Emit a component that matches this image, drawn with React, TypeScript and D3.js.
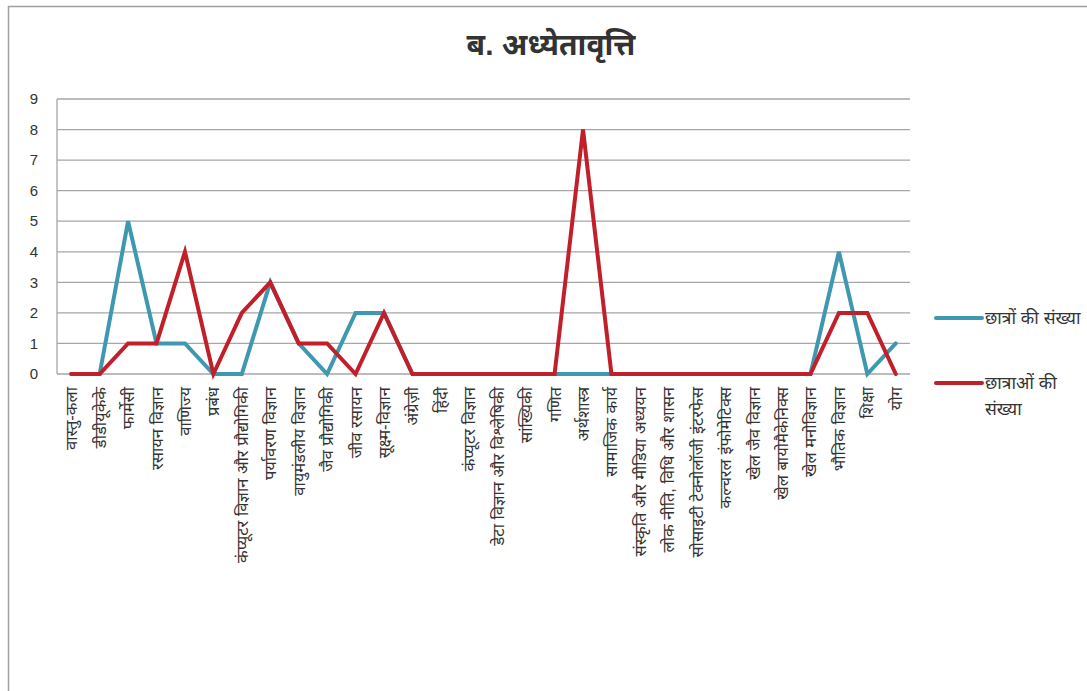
import React from "react";
import * as d3 from "d3";

const categories = [
  "वास्तु-कला", "डीडीयूकेके", "फार्मेसी", "रसायन विज्ञान", "वाणिज्य", "प्रबंध",
  "कंप्यूटर विज्ञान और प्रौद्योगिकी", "पर्यावरण विज्ञान", "वायुमंडलीय विज्ञान", "जैव प्रौद्योगिकी",
  "जीव रसायन", "सूक्ष्म-विज्ञान", "अंग्रेज़ी", "हिंदी", "कंप्यूटर विज्ञान",
  "डेटा विज्ञान और विश्लेषिकी", "सांख्यिकी", "गणित", "अर्थशास्त्र", "सामाजिक कार्य",
  "संस्कृति और मीडिया अध्ययन", "लोक नीति, विधि और शासन", "सोसाइटी टेक्नोलॉजी इंटरफेस",
  "कल्चरल इंफोमेटिक्स", "खेल जैव विज्ञान", "खेल बायोमैकेनिक्स", "खेल मनोविज्ञान",
  "भौतिक विज्ञान", "शिक्षा", "योग",
];
const students = [0, 0, 5, 1, 1, 0, 0, 3, 1, 0, 2, 2, 0, 0, 0, 0, 0, 0, 0, 0, 0, 0, 0, 0, 0, 0, 0, 4, 0, 1];
const femaleStudents = [0, 0, 1, 1, 4, 0, 2, 3, 1, 1, 0, 2, 0, 0, 0, 0, 0, 0, 8, 0, 0, 0, 0, 0, 0, 0, 0, 2, 2, 0];
const yTicks = [0, 1, 2, 3, 4, 5, 6, 7, 8, 9];
const seriesNames = ["छात्रों की संख्या", "छात्राओं की संख्या"];
const colors = ["#3e98af", "#c11f29"];

export default function App() {
  const W = 1087, H = 691;
  const left = 57, right = 910, top = 99, bottom = 374;
  const x = d3.scaleBand<string>().domain(categories).range([left, right]);
  const y = d3.scaleLinear().domain([0, 9]).range([bottom, top]);
  const cx = (c: string) => (x(c) as number) + x.bandwidth() / 2;
  const line = d3.line<number>().x((_, i) => cx(categories[i])).y((d) => y(d));
  const font = "'Liberation Sans', Arial, 'Noto Sans', sans-serif";
  const series = [students, femaleStudents];
  return (
    <svg width={W} height={H} style={{ position: "absolute", left: 0, top: 0 }} fontFamily={font}>
      <rect x={0} y={0} width={W} height={H} fill="#fff" />
      <line x1={8} x2={W} y1={6.5} y2={6.5} stroke="#a0a0a0" strokeWidth={1.5} />
      <line x1={8.5} x2={8.5} y1={6} y2={H} stroke="#a0a0a0" strokeWidth={1.5} />
      <text x={551} y={55} textAnchor="middle" fontSize={30} fontWeight="bold" fill="#333">
        ब. अध्येतावृत्ति
      </text>
      {yTicks.map((t) => (
        <g key={t}>
          <line x1={left} x2={right} y1={y(t)} y2={y(t)} stroke="#a6a6a6" strokeWidth={1.3} />
          <text x={38} y={y(t)} dy="0.35em" textAnchor="end" fontSize={15} fill="#333">
            {t}
          </text>
        </g>
      ))}
      <line x1={left} x2={left} y1={top} y2={bottom} stroke="#a6a6a6" strokeWidth={1.3} />
      {categories.map((c) => (
        <text
          key={c}
          transform={`translate(${cx(c) + 6},${387}) rotate(-90)`}
          textAnchor="end"
          fontSize={16.5}
          fill="#333"
        >
          {c}
        </text>
      ))}
      {series.map((s, k) => (
        <path
          key={k}
          d={line(s) as string}
          fill="none"
          stroke={colors[k]}
          strokeWidth={4}
          strokeLinejoin="miter"
          strokeLinecap="round"
        />
      ))}
      <line x1={936} x2={982} y1={318} y2={318} stroke={colors[0]} strokeWidth={4} strokeLinecap="round" />
      <text x={985} y={318} dy="0.35em" fontSize={17.5} fill="#333">{seriesNames[0]}</text>
      <line x1={936} x2={982} y1={383} y2={383} stroke={colors[1]} strokeWidth={4} strokeLinecap="round" />
      <text x={985} y={383} dy="0.35em" fontSize={17.5} fill="#333">
        <tspan x={985}>छात्राओं की</tspan>
        <tspan x={985} dy={26}>संख्या</tspan>
      </text>
    </svg>
  );
}
